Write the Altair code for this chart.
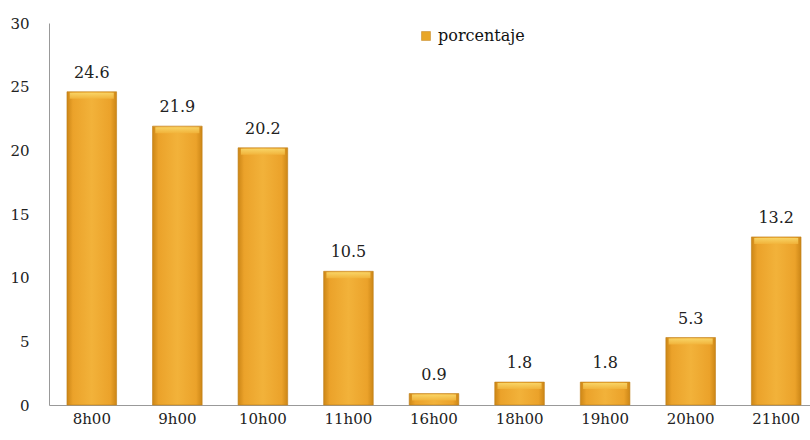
import altair as alt
import pandas as pd

categories = ["8h00", "9h00", "10h00", "11h00", "16h00", "18h00", "19h00", "20h00", "21h00"]
values = [24.6, 21.9, 20.2, 10.5, 0.9, 1.8, 1.8, 5.3, 13.2]
series_name = "porcentaje"

df = pd.DataFrame({"hora": categories, "valor": values, "serie": [series_name] * len(values)})

FONT = "DejaVu Serif"

x = alt.X("hora:N", sort=categories, title=None,
          scale=alt.Scale(paddingInner=0.42, paddingOuter=0.21, range=[0, 770]),
          axis=alt.Axis(labelAngle=0, ticks=False, domainColor="#999999",
                        labelFont=FONT, labelFontSize=15, labelColor="#222222",
                        labelPadding=6))
y = alt.Y("valor:Q", title=None,
          scale=alt.Scale(domain=[0, 30], nice=False),
          axis=alt.Axis(values=[0, 5, 10, 15, 20, 25, 30], ticks=False, grid=False,
                        domainColor="#999999", labelFont=FONT, labelFontSize=15,
                        labelColor="#222222", labelPadding=20))

grad = alt.Gradient(
    gradient="linear", x1=0, x2=1, y1=0, y2=0,
    stops=[alt.GradientStop(color="#CC8616", offset=0),
           alt.GradientStop(color="#EBA22A", offset=0.12),
           alt.GradientStop(color="#F2B23A", offset=0.5),
           alt.GradientStop(color="#EBA22A", offset=0.88),
           alt.GradientStop(color="#CC8616", offset=1)])

top_grad = alt.Gradient(
    gradient="linear", x1=0, x2=0, y1=0, y2=1,
    stops=[alt.GradientStop(color="#FADB6E", offset=0),
           alt.GradientStop(color="#F2B53C", offset=1)])

bars = alt.Chart(df).mark_bar(color=grad, stroke="#C0801A", strokeWidth=0.6).encode(
    x=x, y=y)

bevel = alt.Chart(df).mark_tick(color=top_grad, thickness=6, size=44, yOffset=4,
                                 opacity=0.85).encode(x=x, y=y)

legend_layer = alt.Chart(df).mark_point(opacity=0, filled=True, shape="square").encode(
    x=x, y=y,
    color=alt.Color("serie:N",
                    scale=alt.Scale(domain=[series_name], range=["#E8A628"]),
                    legend=alt.Legend(title=None, orient="none", legendX=369, legendY=5,
                                      symbolType="square", symbolSize=80,
                                      symbolOpacity=1, symbolFillColor="#EBAA30",
                                      symbolStrokeColor="#C0801A", symbolStrokeWidth=0.5,
                                      labelFont=FONT, labelFontSize=16,
                                      labelColor="#111111", labelOffset=4)),
)

text = alt.Chart(df).mark_text(font=FONT, fontSize=16, color="#222222",
                               baseline="bottom", dy=-11).encode(
    x=x, y=y, text=alt.Text("valor:Q", format=".1f"))

chart = alt.layer(bars, bevel, text, legend_layer).properties(
    width=761, height=382,
    autosize=alt.AutoSizeParams(type="none"),
    padding={"left": 49, "top": 23, "right": 0, "bottom": 35},
    background="white",
).configure_view(stroke=None)

chart.save("out.html", embed_options={"renderer": "svg", "actions": False})
